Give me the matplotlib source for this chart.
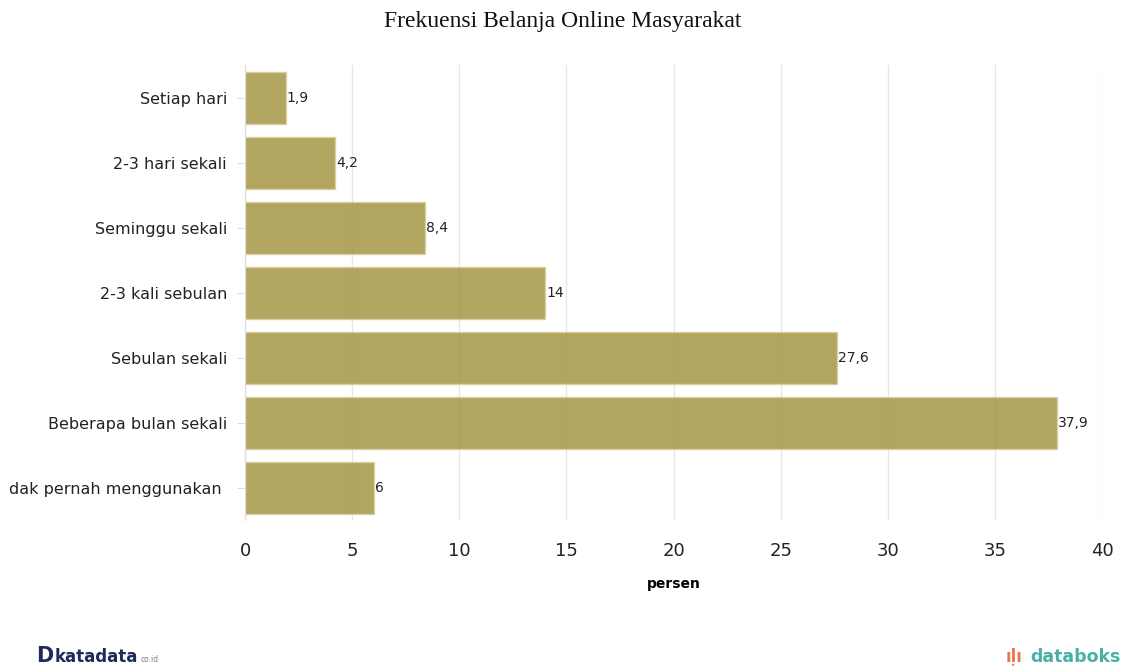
import matplotlib.pyplot as plt
import numpy as np

# data
categories = ['Setiap hari', '2-3 hari sekali', 'Seminggu sekali', '2-3 kali sebulan',
              'Sebulan sekali', 'Beberapa bulan sekali', 'dak pernah menggunakan ']
values = [1.9, 4.2, 8.4, 14, 27.6, 37.9, 6]
value_labels = ['1,9', '4,2', '8,4', '14', '27,6', '37,9', '6']
xticks = [0, 5, 10, 15, 20, 25, 30, 35, 40]

fig = plt.figure(figsize=(11.25, 6.71), dpi=100)
ax = fig.add_axes([0.2178, 0.225, 0.762, 0.678])

y = np.arange(len(categories))
ax.barh(y, values, height=0.8, color='#a99b4f', alpha=0.9,
        edgecolor='#d8d0a0', linewidth=1, zorder=2)
for yi, v, lab in zip(y, values, value_labels):
    ax.text(v + 0.05, yi, lab, va='center', ha='left', fontsize=10, color='#222222')

ax.set_ylim(len(categories) - 0.5, -0.5)
ax.set_xlim(0, 40)
ax.set_yticks(y)
ax.set_yticklabels(categories, fontsize=11.5, color='#222222')
ax.set_xticks(xticks)
ax.set_xticklabels([str(t) for t in xticks], fontsize=13, color='#222222')
ax.tick_params(axis='x', length=0, pad=16)
ax.tick_params(axis='y', length=6, color='#dddddd', pad=7)
ax.grid(axis='x', color='#e6e6e6', linewidth=1, zorder=0)
for s in ['top', 'right', 'bottom']:
    ax.spines[s].set_visible(False)
ax.spines['left'].set_color('#dddddd')
ax.set_xlabel('persen', fontsize=10, fontweight='bold', labelpad=12)

fig.text(0.5, 0.968, 'Frekuensi Belanja Online Masyarakat', ha='center', va='center',
         fontsize=17, family='Liberation Serif', color='#111111')

# logos as text
fig.text(0.032, 0.008, 'D', fontsize=15, fontweight='bold', color='#1e2a5a', va='bottom')
fig.text(0.049, 0.008, 'katadata', fontsize=12, fontweight='bold', color='#1e2a5a', va='bottom')
fig.text(0.125, 0.01, 'co.id', fontsize=5.5, color='#7a8090', va='bottom')
fig.text(0.894, 0.008, 'ıļı', fontsize=12, fontweight='bold', color='#e8774f', va='bottom')
fig.text(0.996, 0.008, 'databoks', fontsize=12.5, fontweight='bold', color='#49b0a8',
         va='bottom', ha='right')

fig.savefig('out.png', dpi=100)
